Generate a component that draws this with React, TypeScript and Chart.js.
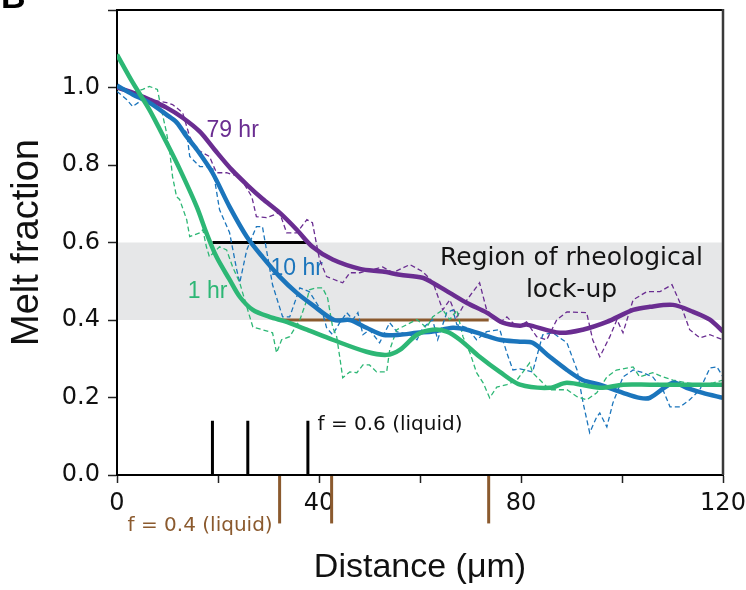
import React, { useEffect, useRef } from "react";
import { Chart, registerables } from "chart.js";

Chart.register(...registerables);

// ---- Data (distance in µm, melt fraction) ----
const hr1X = [0, 3.1, 6.4, 9.8, 12.4, 15.8, 17.7, 19.7, 22.3, 24.3, 26.9, 30.2, 33.6, 37.6, 42.7, 49.4, 53.4, 56.0, 59.4, 62.5, 65.3, 67.9, 71.8, 75.8, 79.8, 85.7, 89.1, 95.6, 100.2, 105.5, 120];
const hr1Y = [1.085, 1.013, 0.943, 0.858, 0.79, 0.692, 0.625, 0.563, 0.504, 0.46, 0.426, 0.408, 0.395, 0.375, 0.349, 0.318, 0.31, 0.323, 0.362, 0.375, 0.37, 0.349, 0.305, 0.266, 0.233, 0.225, 0.238, 0.225, 0.233, 0.233, 0.233];

const hr10X = [0, 3.1, 6.4, 9.8, 11.8, 13.8, 15.8, 18.9, 22.3, 25.7, 28.8, 32.2, 35.6, 38.7, 43.0, 46.1, 49.4, 52.6, 56.0, 59.4, 62.5, 66.5, 69.3, 72.5, 75.8, 79.8, 82.3, 85.7, 89.1, 92.2, 95.6, 100.2, 103.5, 105.5, 110.1, 112.8, 116.0, 120];
const hr10Y = [1.005, 0.982, 0.961, 0.93, 0.91, 0.873, 0.84, 0.78, 0.692, 0.615, 0.563, 0.512, 0.47, 0.439, 0.4, 0.4, 0.38, 0.362, 0.362, 0.367, 0.37, 0.38, 0.375, 0.362, 0.349, 0.344, 0.341, 0.305, 0.271, 0.245, 0.233, 0.212, 0.199, 0.199, 0.238, 0.225, 0.212, 0.199];

const hr79X = [0, 3.1, 6.4, 9.8, 13.0, 16.4, 19.3, 22.7, 25.9, 28.8, 32.2, 35.6, 38.7, 42.7, 48.1, 52.6, 56.0, 60.5, 62.5, 65.9, 69.3, 73.2, 76.4, 79.8, 81.1, 87.7, 92.2, 97.0, 102.2, 105.5, 110.1, 114.1, 117.4, 120];
const hr79Y = [1.0, 0.987, 0.969, 0.948, 0.922, 0.886, 0.84, 0.788, 0.747, 0.713, 0.677, 0.633, 0.589, 0.556, 0.532, 0.525, 0.517, 0.509, 0.496, 0.47, 0.444, 0.419, 0.393, 0.385, 0.388, 0.367, 0.375, 0.395, 0.426, 0.434, 0.439, 0.421, 0.401, 0.37];

const hr79RawX = [0, 3.1, 6.4, 9.8, 11.0, 13.0, 14.4, 15.8, 18.3, 19.7, 21.7, 24.3, 26.7, 27.6, 29.6, 32.2, 33.6, 35.6, 37.6, 38.7, 40.1, 41.5, 44.7, 46.1, 48.1, 52.6, 54.6, 58.0, 60.5, 62.5, 64.5, 65.9, 67.3, 69.3, 71.8, 73.2, 75.8, 77.2, 79.2, 81.1, 83.1, 85.1, 87.1, 89.1, 93.0, 94.2, 95.6, 97.6, 99.0, 100.2, 102.2, 104.9, 107.5, 109.9, 111.5, 113.4, 115.4, 117.4, 120];
const hr79RawY = [1.0, 0.982, 0.969, 0.961, 0.956, 0.935, 0.873, 0.84, 0.822, 0.78, 0.78, 0.77, 0.718, 0.667, 0.664, 0.677, 0.625, 0.625, 0.659, 0.651, 0.556, 0.512, 0.496, 0.522, 0.522, 0.537, 0.522, 0.543, 0.525, 0.499, 0.426, 0.452, 0.408, 0.452, 0.496, 0.426, 0.393, 0.408, 0.382, 0.395, 0.357, 0.349, 0.401, 0.421, 0.419, 0.349, 0.305, 0.357, 0.401, 0.367, 0.452, 0.473, 0.473, 0.491, 0.444, 0.375, 0.354, 0.362, 0.349];

const hr10RawX = [0, 1.9, 3.1, 5.1, 7.8, 9.8, 11.8, 13.8, 14.4, 16.4, 18.9, 20.3, 22.3, 23.7, 24.3, 25.7, 27.6, 28.8, 29.6, 30.8, 32.8, 34.2, 36.2, 38.1, 39.5, 40.7, 41.5, 42.7, 44.1, 45.5, 46.7, 47.7, 48.7, 50.0, 52.0, 54.0, 55.4, 58.0, 59.4, 60.6, 62.5, 63.5, 65.3, 66.5, 67.3, 69.3, 71.2, 73.2, 75.8, 77.2, 78.4, 79.8, 82.3, 84.3, 86.3, 89.1, 91.1, 92.3, 93.6, 95.0, 95.6, 97.0, 98.2, 100.2, 102.2, 104.2, 106.1, 108.1, 109.5, 111.5, 113.4, 115.4, 117.4, 118.8, 120];
const hr10RawY = [0.99, 0.969, 0.951, 0.969, 0.961, 0.925, 0.91, 0.884, 0.822, 0.796, 0.796, 0.685, 0.625, 0.53, 0.496, 0.581, 0.641, 0.641, 0.581, 0.491, 0.408, 0.408, 0.483, 0.473, 0.444, 0.419, 0.38, 0.362, 0.393, 0.419, 0.401, 0.419, 0.362, 0.375, 0.341, 0.393, 0.37, 0.362, 0.349, 0.38, 0.401, 0.349, 0.419, 0.426, 0.388, 0.38, 0.349, 0.37, 0.375, 0.315, 0.271, 0.274, 0.266, 0.362, 0.367, 0.341, 0.271, 0.186, 0.109, 0.15, 0.16, 0.124, 0.186, 0.253, 0.271, 0.264, 0.253, 0.22, 0.176, 0.176, 0.194, 0.22, 0.276, 0.279, 0.253];

const hr1RawX = [0, 3.1, 5.1, 6.4, 8.0, 8.8, 9.8, 10.4, 11.0, 11.8, 12.4, 13.8, 14.4, 16.4, 17.0, 17.7, 18.3, 20.3, 21.7, 22.9, 24.3, 25.7, 26.9, 28.8, 30.8, 31.6, 32.6, 34.2, 36.2, 37.6, 38.1, 39.5, 40.7, 41.7, 42.7, 43.5, 44.1, 44.7, 46.1, 47.5, 48.7, 50.0, 51.4, 53.4, 54.0, 55.4, 57.4, 59.4, 61.3, 62.5, 64.5, 65.9, 67.3, 68.5, 69.9, 71.2, 72.5, 73.8, 75.2, 77.2, 79.2, 81.7, 82.3, 84.3, 85.7, 89.1, 91.1, 93.0, 95.0, 97.0, 98.9, 102.2, 103.5, 106.1, 108.1, 110.1, 112.8, 115.4, 118.1, 120];
const hr1RawY = [0.995, 0.987, 0.995, 1.003, 0.995, 0.943, 0.884, 0.84, 0.77, 0.718, 0.711, 0.659, 0.615, 0.625, 0.633, 0.589, 0.563, 0.589, 0.581, 0.537, 0.496, 0.434, 0.382, 0.375, 0.367, 0.315, 0.349, 0.357, 0.4, 0.452, 0.478, 0.483, 0.483, 0.457, 0.382, 0.357, 0.305, 0.251, 0.266, 0.264, 0.284, 0.284, 0.266, 0.266, 0.323, 0.375, 0.388, 0.401, 0.38, 0.408, 0.426, 0.401, 0.426, 0.357, 0.315, 0.264, 0.238, 0.199, 0.227, 0.233, 0.245, 0.289, 0.264, 0.238, 0.22, 0.22, 0.202, 0.194, 0.212, 0.253, 0.271, 0.279, 0.253, 0.264, 0.253, 0.245, 0.238, 0.233, 0.238, 0.245];

// lock-up band and liquid markers
const bandRange = [0.4, 0.6];
const liquid06X = [18.9, 25.9, 37.8];
const liquid04X = [32.2, 42.5, 73.6];
const liquid06Span = [18.9, 37.8];
const liquid04Span = [32.2, 73.6];

const xTicks = [0, 40, 80, 120];

const PURPLE = "#6a2d91";
const BLUE = "#1b75bc";
const GREEN = "#2db775";
const BROWN = "#8b5a2e";

const zip = (xs: number[], ys: number[]) => xs.map((x, i) => ({ x, y: ys[i] }));

const annotPlugin = {
  id: "annot",
  beforeDatasetsDraw(chart: any) {
    const { ctx, chartArea: a, scales } = chart;
    const xs = scales.x, ys = scales.y;
    ctx.save();
    // band
    const yTop = ys.getPixelForValue(bandRange[1]);
    const yBot = ys.getPixelForValue(bandRange[0]);
    ctx.fillStyle = "#e6e7e8";
    ctx.fillRect(a.left + 1, yTop, a.right - a.left - 1, yBot - yTop);

    // labels
    const txt = (t: string, x: number, y: number, font: string, color: string, align: CanvasTextAlign = "left") => {
      ctx.font = font;
      ctx.fillStyle = color;
      ctx.textAlign = align;
      ctx.textBaseline = "alphabetic";
      ctx.fillText(t, xs.getPixelForValue(x), ys.getPixelForValue(y));
    };
    txt("79 hr", 17.7, 0.873, '23px "Liberation Sans", Arial', PURPLE);
    txt("10 hr", 30.4, 0.517, '23px "Liberation Sans", Arial', BLUE);
    txt("1 hr", 14.0, 0.457, '23px "Liberation Sans", Arial', GREEN);
    txt("Region of rheological", 90.0, 0.543, '25px "DejaVu Sans"', "#141414", "center");
    txt("lock-up", 90.0, 0.46, '25px "DejaVu Sans"', "#141414", "center");
    txt("f = 0.6 (liquid)", 39.7, 0.116, '20px "DejaVu Sans"', "#111", "left");
    txt("f = 0.4 (liquid)", 2.1, -0.144, '20px "DejaVu Sans"', BROWN, "left");

    // horizontal spans
    ctx.lineWidth = 3;
    ctx.strokeStyle = "#000";
    ctx.beginPath();
    ctx.moveTo(xs.getPixelForValue(liquid06Span[0]), ys.getPixelForValue(0.6));
    ctx.lineTo(xs.getPixelForValue(liquid06Span[1]), ys.getPixelForValue(0.6));
    ctx.stroke();
    ctx.strokeStyle = BROWN;
    ctx.beginPath();
    ctx.moveTo(xs.getPixelForValue(liquid04Span[0]), ys.getPixelForValue(0.4));
    ctx.lineTo(xs.getPixelForValue(liquid04Span[1]), ys.getPixelForValue(0.4));
    ctx.stroke();

    // vertical markers
    ctx.lineWidth = 3;
    ctx.strokeStyle = "#000";
    liquid06X.forEach((v) => {
      const px = xs.getPixelForValue(v);
      ctx.beginPath();
      ctx.moveTo(px, ys.getPixelForValue(0));
      ctx.lineTo(px, ys.getPixelForValue(0.14));
      ctx.stroke();
    });
    ctx.strokeStyle = BROWN;
    liquid04X.forEach((v) => {
      const px = xs.getPixelForValue(v);
      ctx.beginPath();
      ctx.moveTo(px, ys.getPixelForValue(0) + 1);
      ctx.lineTo(px, ys.getPixelForValue(-0.125));
      ctx.stroke();
    });
    ctx.restore();
  },
  afterDraw(chart: any) {
    const { ctx, chartArea: a } = chart;
    ctx.save();
    ctx.strokeStyle = "#000";
    ctx.lineWidth = 2;
    ctx.beginPath();
    ctx.moveTo(a.left, a.top);
    ctx.lineTo(a.right, a.top);
    ctx.stroke();
    ctx.strokeStyle = "#3a3a3a";
    ctx.lineWidth = 2.5;
    ctx.beginPath();
    ctx.moveTo(a.right, a.top - 1);
    ctx.lineTo(a.right, a.bottom);
    ctx.stroke();
    // panel letter (cut off at top)
    ctx.fillStyle = "#000";
    ctx.font = 'bold 34px "Liberation Sans", Arial';
    ctx.textAlign = "left";
    ctx.textBaseline = "alphabetic";
    ctx.fillText("B", 1, 8);
    ctx.restore();
  },
};

export default function App() {
  const ref = useRef<HTMLCanvasElement>(null);
  useEffect(() => {
    const solid = (label: string, xs: number[], ys: number[], color: string, order: number) => ({
      label,
      data: zip(xs, ys),
      borderColor: color,
      backgroundColor: color,
      borderWidth: 4.5,
      pointRadius: 0,
      tension: 0.3,
      fill: false,
      order,
    });
    const dashed = (label: string, xs: number[], ys: number[], color: string, order: number) => ({
      label,
      data: zip(xs, ys),
      borderColor: color,
      backgroundColor: color,
      borderWidth: 1.3,
      borderDash: [5, 3],
      pointRadius: 0,
      tension: 0,
      fill: false,
      order,
    });
    const chart = new Chart(ref.current!, {
      type: "line",
      data: {
        datasets: [
          solid("79 hr", hr79X, hr79Y, PURPLE, 2),
          solid("10 hr", hr10X, hr10Y, BLUE, 1),
          solid("1 hr", hr1X, hr1Y, GREEN, 0),
          dashed("79 hr raw", hr79RawX, hr79RawY, PURPLE, 5),
          dashed("10 hr raw", hr10RawX, hr10RawY, BLUE, 4),
          dashed("1 hr raw", hr1RawX, hr1RawY, GREEN, 3),
        ] as any,
      },
      options: {
        responsive: false,
        animation: false,
        layout: { padding: { left: 0, right: 23, top: 10, bottom: 0 } },
        plugins: { legend: { display: false }, tooltip: { enabled: false } },
        scales: {
          x: {
            type: "linear",
            min: 0,
            max: 120,
            afterFit: (s: any) => { s.height = 115; s.paddingLeft = 0; s.paddingRight = 0; },
            ticks: {
              stepSize: 20,
              autoSkip: false,
              maxRotation: 0,
              padding: 6,
              color: "#111",
              font: { family: "DejaVu Sans", size: 24 },
              callback: (v: any) => (xTicks.includes(Number(v)) ? String(v) : ""),
            },
            grid: { drawOnChartArea: false, drawTicks: true, tickLength: 8, tickColor: "#222", tickWidth: 1.5 },
            border: { display: true, color: "#000", width: 2 },
            title: {
              display: true,
              text: "Distance (μm)",
              color: "#111",
              font: { family: '"Liberation Sans", Arial', size: 34 },
              padding: { top: 0, bottom: 2 },
            },
          },
          y: {
            type: "linear",
            min: 0,
            max: 1.2,
            afterFit: (s: any) => { s.width = 117; s.paddingTop = 0; s.paddingBottom = 0; },
            ticks: {
              stepSize: 0.2,
              padding: 8,
              color: "#111",
              font: { family: "DejaVu Sans", size: 24 },
              callback: (v: any) => (Number(v) > 1.1 ? "" : Number(v).toFixed(1)),
            },
            grid: { drawOnChartArea: false, drawTicks: true, tickLength: 9, tickColor: "#222", tickWidth: 1.5 },
            border: { display: true, color: "#000", width: 2 },
            title: {
              display: true,
              text: "Melt fraction",
              color: "#111",
              font: { family: '"Liberation Sans", Arial', size: 38 },
              padding: { top: 5, bottom: 0 },
            },
          },
        },
      },
      plugins: [annotPlugin],
    } as any);
    return () => chart.destroy();
  }, []);
  return (
    <div style={{ position: "absolute", left: 0, top: 0, width: 746, height: 590 }}>
      <canvas ref={ref} width={746} height={590} style={{ display: "block" }} />
    </div>
  );
}
